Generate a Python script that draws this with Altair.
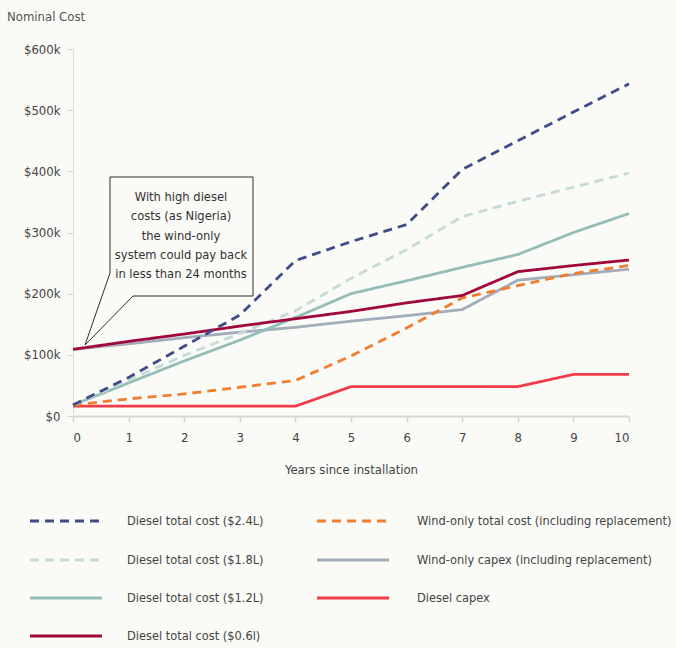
import altair as alt
import pandas as pd

# ---------------- data (values in $k) ----------------
years = [0, 1, 2, 3, 4, 5, 6, 7, 8, 9, 10]

series_names = [
    "Diesel total cost ($2.4L)",
    "Diesel total cost ($1.8L)",
    "Diesel total cost ($1.2L)",
    "Diesel total cost ($0.6l)",
    "Wind-only total cost (including replacement)",
    "Wind-only capex (including replacement)",
    "Diesel capex",
]

diesel_24 = [18, 63, 114, 165, 254, 285, 313, 403, 450, 497, 543]
diesel_18 = [18, 59, 99, 135, 172, 225, 272, 326, 351, 374, 397]
diesel_12 = [18, 54, 90, 124, 161, 200, 221, 243, 264, 300, 331]
diesel_06 = [109, 122, 134, 147, 159, 171, 185, 197, 236, 246, 255]
wind_total = [18, 28, 36, 47, 58, 98, 144, 193, 213, 233, 246]
wind_capex = [109, 118, 128, 137, 145, 155, 164, 174, 222, 231, 240]
diesel_capex = [16, 16, 16, 16, 16, 48, 48, 48, 48, 68, 68]

y_ticks = [0, 100000, 200000, 300000, 400000, 500000, 600000]

annotation = "With high diesel\ncosts (as Nigeria)\nthe wind-only\nsystem could pay back\nin less than 24 months"

# ---------------- styling ----------------
colors = ["#404b88", "#c6dad6", "#94bdb8", "#a1073b", "#ef7e2e", "#a2acba", "#ef3c48"]
DASH = [9, 6]
SOLID = [1, 0]
dashes = [DASH, DASH, SOLID, SOLID, DASH, SOLID, SOLID]
BG = "#fafaf7"
FONT = "Liberation Sans Narrow, Arial Narrow, DejaVu Sans Condensed, sans-serif"
TXT = "#444444"
FS = 13

values_by_series = {
    series_names[0]: diesel_24,
    series_names[1]: diesel_18,
    series_names[2]: diesel_12,
    series_names[3]: diesel_06,
    series_names[4]: wind_total,
    series_names[5]: wind_capex,
    series_names[6]: diesel_capex,
}

# drawing order (bottom -> top)
draw_order = [series_names[i] for i in [6, 5, 4, 2, 1, 3, 0]]
rows = []
for s in draw_order:
    for yr, v in zip(years, values_by_series[s]):
        rows.append({"year": yr, "cost": v * 1000, "series": s})
df = pd.DataFrame(rows)

color_scale = alt.Scale(domain=series_names, range=colors)
dash_scale = alt.Scale(domain=series_names, range=dashes)

lines = alt.Chart(df).mark_line(strokeWidth=2.8).encode(
    x=alt.X(
        "year:Q",
        scale=alt.Scale(domain=[0, 10], nice=False),
        axis=alt.Axis(
            values=years,
            title="Years since installation",
            titleFont=FONT,
            titleFontSize=FS,
            titleFontWeight="normal",
            titleColor=TXT,
            titlePadding=19,
            labelFont=FONT,
            labelFontSize=FS,
            labelColor=TXT,
            labelPadding=9,
            domainColor="#d6d6d6",
            domainWidth=2,
            tickColor="#d6d6d6",
            tickSize=6,
            tickWidth=1.5,
            grid=False,
        ),
    ),
    y=alt.Y(
        "cost:Q",
        scale=alt.Scale(domain=[0, 600000], nice=False),
        axis=alt.Axis(
            values=y_ticks,
            labelExpr="datum.value == 0 ? '$0' : '$' + (datum.value / 1000) + 'k'",
            title=None,
            labelFont=FONT,
            labelFontSize=FS,
            labelColor=TXT,
            labelPadding=7,
            domainColor="#dedede",
            domainWidth=1,
            tickColor="#d6d6d6",
            tickSize=6,
            grid=False,
        ),
    ),
    color=alt.Color("series:N", scale=color_scale, legend=None),
    strokeDash=alt.StrokeDash("series:N", scale=dash_scale, legend=None),
)

# ---------------- custom legend (two columns, column-major) ----------------
leg_rows = []
col_sym_x = [-43, 244]
col_txt_x = [54, 344]
row_y = [472, 511, 549, 587]
for i, s in enumerate(series_names):
    c = 0 if i < 4 else 1
    r = i if i < 4 else i - 4
    leg_rows.append({"series": s, "x1": col_sym_x[c], "x2": col_sym_x[c] + 72,
                     "ly": row_y[r], "tx": col_txt_x[c]})
leg_df = pd.DataFrame(leg_rows)

leg_sym = alt.Chart(leg_df).mark_rule(strokeWidth=3).encode(
    x=alt.X("x1:Q", scale=None, axis=None),
    x2="x2:Q",
    y=alt.Y("ly:Q", scale=None, axis=None),
    color=alt.Color("series:N", scale=color_scale, legend=None),
    strokeDash=alt.StrokeDash("series:N", scale=dash_scale, legend=None),
)
leg_txt = alt.Chart(leg_df).mark_text(
    align="left", baseline="middle", font=FONT, fontSize=12.7, color=TXT
).encode(
    x=alt.X("tx:Q", scale=None, axis=None),
    y=alt.Y("ly:Q", scale=None, axis=None),
    text="series:N",
)

# ---------------- annotations ----------------
one = pd.DataFrame({"k": [0]})

def seg(x1, y1, x2, y2):
    return alt.Chart(one).mark_rule(color="#2d2d2d", strokeWidth=1).encode(
        x=alt.value(x1), x2=alt.value(x2), y=alt.value(y1), y2=alt.value(y2)
    )

box_fill = alt.Chart(one).mark_rect(fill=BG).encode(
    x=alt.value(37), x2=alt.value(180), y=alt.value(128), y2=alt.value(247)
)
callout = [
    box_fill,
    seg(37, 128, 180, 128),
    seg(180, 128, 180, 247),
    seg(60, 247, 180, 247),
    seg(37, 128, 37, 224),
    seg(37, 224, 12, 296),
    seg(60, 247, 12, 296),
]
callout_text = alt.Chart(one).mark_text(
    align="center", baseline="top", font=FONT, fontSize=12.8, color="#333333",
    lineHeight=19.3, lineBreak="\n",
).encode(x=alt.value(108), y=alt.value(142), text=alt.value(annotation))

y_title = alt.Chart(one).mark_text(
    align="left", baseline="middle", font=FONT, fontSize=13, color="#555555"
).encode(x=alt.value(-66), y=alt.value(-32), text=alt.value("Nominal Cost"))

chart = alt.layer(
    lines, *callout, callout_text, y_title, leg_sym, leg_txt
).resolve_scale(
    x="independent", y="independent"
).properties(
    width=556,
    height=367,
    padding={"left": 73, "top": 49, "right": 47, "bottom": 232},
    autosize=alt.AutoSizeParams(type="none"),
    background=BG,
).configure_view(stroke=None)

chart.save("out.html", embed_options={"renderer": "svg", "actions": False})
